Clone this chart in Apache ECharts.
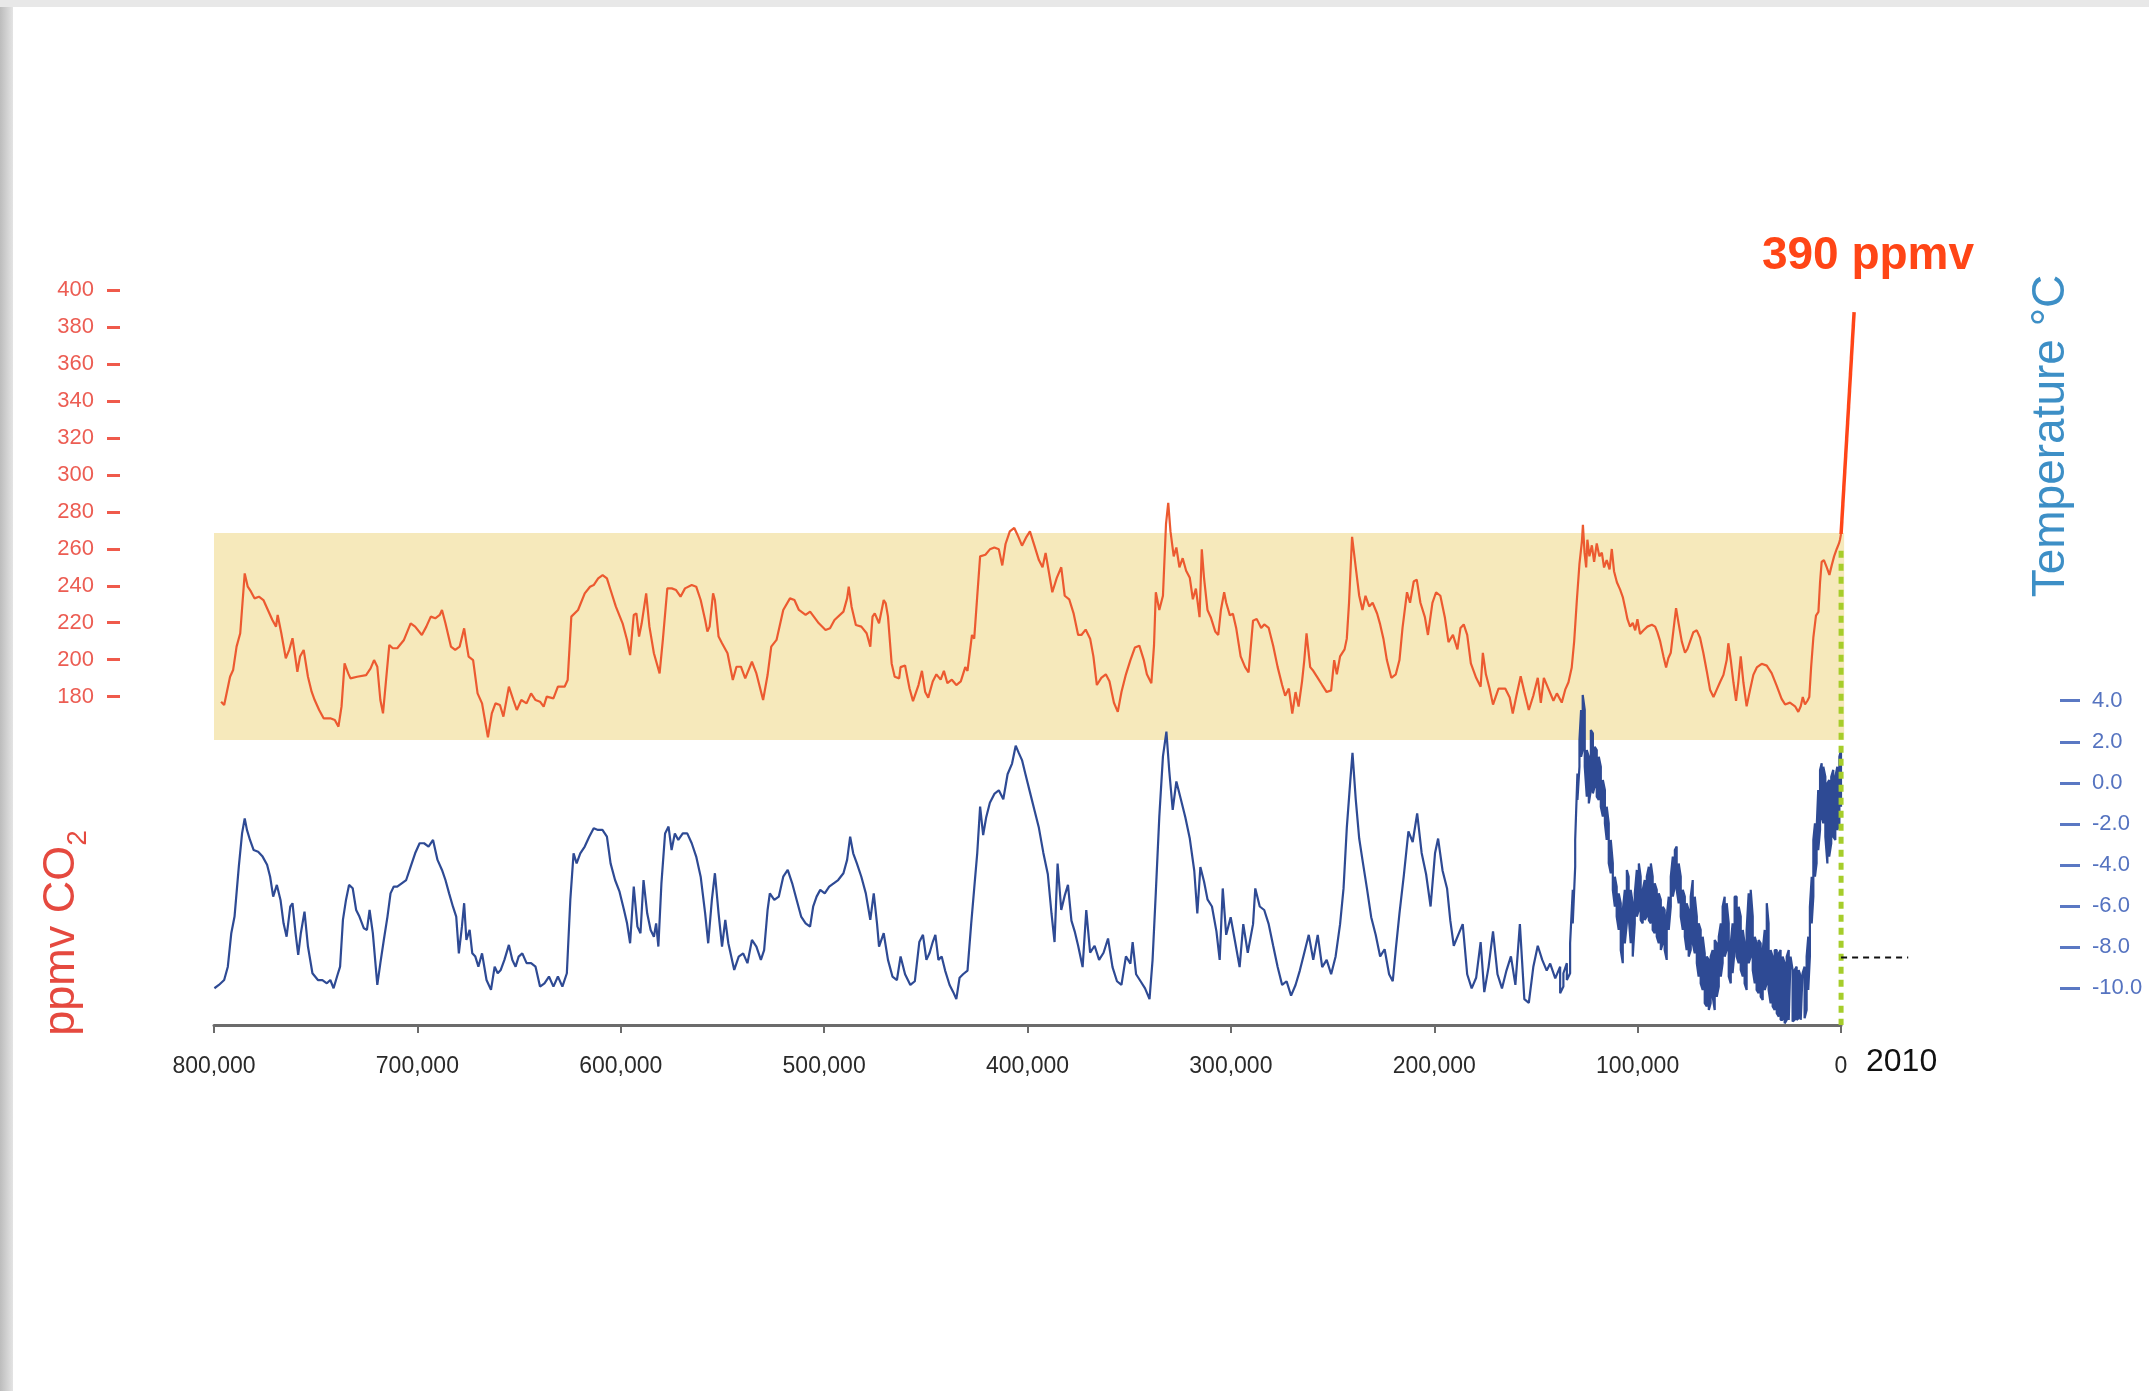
<!DOCTYPE html>
<html><head><meta charset="utf-8">
<script src="https://cdn.jsdelivr.net/npm/echarts@6/dist/echarts.min.js"></script>
<style>html,body{margin:0;padding:0;background:#fff;}#c{width:2149px;height:1391px;}</style>
</head><body><div id="c"></div>
<script>
// ---- data (age in thousand years before present) ----
const co2Age = [796.5,795.0,792.1,790.6,788.9,787.1,784.9,783.4,781.8,780.1,777.9,775.7,773.5,771.3,769.5,768.7,766.9,764.7,763.0,761.4,760.3,759.0,757.7,755.9,753.8,752.0,750.5,748.3,746.1,742.8,740.6,738.8,737.3,735.8,734.0,732.9,729.6,725.2,723.0,721.3,719.7,718.2,716.9,715.4,713.8,712.1,709.9,706.6,703.3,701.1,697.8,695.6,693.4,691.2,689.0,687.9,686.2,683.5,681.4,679.2,677.0,675.9,674.8,672.6,670.4,668.2,665.3,663.4,661.6,659.4,657.7,655.0,652.8,651.1,648.9,646.3,644.1,641.9,639.7,637.9,636.4,633.1,630.9,627.6,626.1,624.3,621.0,617.7,615.1,613.3,611.1,608.9,606.8,605.0,602.4,599.1,596.9,595.4,593.6,592.3,591.0,589.7,587.5,585.9,583.7,580.9,579.3,577.1,574.9,572.8,570.6,568.4,565.1,562.9,560.7,558.5,557.4,556.3,554.6,553.7,551.9,550.2,547.5,544.9,543.1,540.9,538.8,535.5,533.3,530.0,527.8,526.0,523.4,520.1,516.8,514.6,512.4,509.1,506.9,502.6,499.3,497.1,494.9,490.5,488.7,487.9,486.5,484.4,481.7,479.1,477.3,476.2,475.1,473.0,470.7,469.7,468.6,466.8,465.3,463.1,
462.4,460.2,458.0,456.3,453.6,451.9,450.3,448.8,446.6,444.8,442.7,441.1,439.4,437.2,435.0,432.8,430.6,429.5,427.3,426.2,424.7,423.3,420.7,418.5,416.3,414.1,412.4,410.8,408.7,406.5,404.9,402.7,400.5,398.8,396.6,394.4,392.6,391.1,389.6,387.8,385.6,383.4,381.7,379.5,377.3,375.1,373.5,371.4,369.2,367.6,365.9,363.7,361.5,359.7,357.5,355.6,353.8,351.6,349.4,347.2,345.0,342.8,341.3,339.1,337.8,336.9,335.2,333.4,331.9,330.8,329.7,328.1,326.8,325.3,323.7,322.0,320.2,318.7,317.2,315.4,314.3,313.2,311.5,309.9,307.7,306.2,304.9,303.3,302.3,300.5,299.0,297.4,295.2,293.0,291.3,289.1,287.3,285.1,283.6,281.4,279.2,277.0,274.8,273.3,271.5,269.8,268.2,266.7,265.0,263.9,262.8,261.0,259.5,257.3,255.1,252.9,250.7,249.2,247.9,246.3,244.1,243.0,241.9,240.4,238.6,236.9,235.3,233.8,232.0,230.3,228.1,226.6,225.0,223.3,221.1,218.9,217.1,215.6,213.4,211.9,210.1,208.6,206.8,204.6,203.1,200.9,199.1,197.0,194.8,193.0,190.8,188.6,187.1,185.5,183.8,182.0,179.4,177.2,176.1,174.6,172.8,171.1,168.4,165.1,162.9,161.4,159.6,157.5,155.7,153.5,151.3,149.1,147.6,146.1,143.9,
141.4,139.7,137.3,135.6,134.0,132.4,131.2,129.9,128.6,127.4,126.9,126.1,125.3,124.7,123.7,122.5,121.4,120.1,118.8,117.6,116.5,115.2,113.8,112.7,111.6,110.2,108.6,107.3,106.1,105.0,103.7,102.4,101.2,100.1,98.8,97.1,95.2,93.0,91.4,90.3,88.9,87.3,86.0,84.9,83.7,82.4,81.1,79.9,78.3,76.7,75.5,74.2,72.6,70.9,69.3,67.7,66.0,64.4,62.7,61.1,59.5,57.8,56.2,55.4,54.2,52.9,51.6,50.5,49.3,48.0,46.4,44.7,43.1,41.4,39.0,36.5,34.1,31.6,29.2,27.5,25.1,22.6,21.0,19.8,18.8,17.7,16.5,15.6,14.7,13.6,12.3,11.1,10.3,9.5,8.4,7.0,5.7,4.6,3.4,2.1,1.0,0.5,0.0];
const co2Ppm = [177.3,175.5,190.8,194.4,207.1,214.3,246.7,239.5,236.8,233.2,234.1,232.3,226.9,221.5,217.9,224.2,214.3,200.8,205.3,211.6,203.5,193.5,201.7,205.3,190.8,182.7,178.2,172.8,168.3,168.3,167.4,163.8,174.6,198.0,192.6,189.9,190.8,191.7,195.3,199.8,196.2,178.2,171.0,189.0,208.0,206.2,206.2,210.7,219.7,217.9,213.4,217.9,223.3,222.4,224.2,226.9,219.7,207.1,205.3,207.1,217.0,208.9,201.7,199.8,181.8,176.4,158.0,171.0,176.4,175.5,169.2,185.4,178.2,172.8,178.2,176.4,181.8,178.2,177.3,174.6,180.0,179.1,185.4,185.4,189.0,223.3,226.9,235.9,239.5,240.4,244.0,245.8,244.0,237.7,228.7,219.7,210.7,202.5,224.2,225.1,212.5,219.7,235.9,217.9,203.5,192.6,210.7,238.6,238.6,237.7,234.1,238.6,240.4,239.5,232.3,221.5,215.2,217.9,235.9,232.3,212.5,208.9,203.5,189.0,196.2,196.2,189.9,198.9,192.6,178.2,191.7,207.1,210.7,226.9,233.2,232.3,226.9,224.2,226.0,219.7,216.1,217.0,221.5,226.0,233.2,239.5,228.7,218.8,217.9,214.3,207.1,223.3,225.1,219.7,232.3,230.5,223.3,198.0,190.8,189.9,
196.0,196.9,184.4,177.6,186.3,194.0,182.5,179.5,188.2,192.1,189.2,194.0,187.3,189.2,186.3,188.3,196.0,194.0,213.4,211.4,234.6,255.9,256.8,259.7,260.7,259.7,251.0,262.6,269.4,271.3,267.5,261.7,266.5,269.4,261.7,253.9,250.0,257.8,248.1,236.5,244.3,250.0,234.6,232.7,224.9,213.4,213.4,216.3,211.4,201.8,186.3,190.2,192.1,188.3,176.7,171.8,182.5,192.1,199.8,206.6,207.6,199.8,192.1,187.3,207.6,236.5,226.9,234.6,273.3,284.9,269.4,255.9,260.7,250.0,254.9,248.1,244.3,232.7,238.5,223.0,259.7,244.3,226.9,223.0,215.3,213.4,226.9,236.5,230.8,224.0,224.9,217.2,201.8,196.0,193.1,221.1,222.1,217.2,219.1,217.2,207.6,196.0,186.3,180.5,184.4,170.9,182.5,174.7,188.3,199.8,214.3,196.0,194.0,190.2,186.3,182.5,183.4,199.8,192.1,201.8,205.6,211.4,230.8,266.5,250.0,234.6,226.9,234.6,228.8,230.8,225.0,219.1,211.4,199.8,190.2,192.1,199.8,217.2,236.5,230.8,242.3,243.3,230.8,223.0,213.4,230.8,236.5,234.6,223.0,209.5,213.4,205.6,217.2,219.1,213.4,198.0,190.2,185.4,203.7,192.1,184.4,175.7,184.4,184.4,179.6,170.9,180.5,191.1,182.5,172.8,180.5,190.2,176.7,190.2,184.4,
177.8,181.8,176.8,183.8,187.8,195.8,209.9,231.9,251.9,263.9,273.0,257.9,249.9,264.9,255.9,261.9,252.9,262.9,255.9,257.9,249.9,253.9,248.9,259.9,247.9,241.9,237.9,233.9,227.9,221.9,217.9,219.9,215.9,221.9,213.9,215.9,217.9,218.9,217.9,214.9,209.9,201.8,195.8,200.8,203.8,215.9,227.9,219.9,209.9,203.8,205.8,209.9,214.9,215.9,211.9,203.8,193.8,183.8,179.8,183.8,187.8,191.8,199.8,208.9,199.8,187.8,177.8,187.8,201.8,187.8,174.8,183.8,191.8,195.8,197.8,196.8,192.8,185.8,178.8,175.8,176.8,174.8,171.8,174.8,179.8,175.8,177.8,179.8,195.8,211.9,223.9,225.9,241.9,252.9,253.9,249.9,245.9,250.9,255.9,259.9,262.9,264.9,268.0];

// temperature, 800k -> 140k (single trace)
const tempAge = [799.8,797.6,795.0,793.2,791.5,789.9,787.8,786.2,784.9,783.8,782.3,780.5,778.3,776.1,773.9,772.4,770.9,769.1,767.3,765.8,764.3,762.5,761.4,759.9,758.6,757.3,755.5,753.8,751.6,748.9,746.7,744.5,742.8,741.2,739.5,738.0,736.6,735.1,733.6,731.8,730.1,728.5,726.3,724.8,723.5,721.9,719.7,718.2,716.5,714.7,713.2,711.6,709.9,707.7,705.5,703.3,701.1,698.9,696.7,694.5,692.3,690.1,687.9,686.2,684.4,682.5,680.9,679.6,678.1,677.0,675.9,674.3,673.0,671.5,670.0,668.2,666.0,663.8,662.0,660.5,659.0,657.2,655.0,653.3,651.7,650.2,648.4,646.3,644.1,641.9,639.7,637.5,635.3,633.1,630.9,628.7,626.5,624.8,623.2,621.7,619.9,617.7,615.5,613.3,611.2,609.0,606.8,605.0,602.8,600.6,598.4,596.9,595.4,593.6,591.8,590.3,588.8,587.0,585.3,583.7,582.6,581.5,580.0,578.2,576.5,575.0,573.4,571.7,569.5,567.3,565.1,562.9,560.7,558.5,557.0,555.2,553.7,551.9,550.2,548.6,547.1,544.2,542.0,539.8,537.7,535.5,533.3,531.1,529.5,527.8,526.7,524.5,522.3,520.1,517.9,515.7,513.5,511.3,509.1,506.9,505.4,503.7,501.9,499.7,497.5,495.3,493.1,490.5,488.7,487.2,485.7,483.9,481.7,479.5,477.3,475.6,474.0,473.0,470.7,468.6,466.4,464.2,
462.4,460.2,457.6,455.4,453.2,451.4,449.7,448.1,446.6,445.3,443.8,442.2,440.5,438.3,436.5,435.0,433.4,431.7,429.5,427.7,426.2,424.7,423.3,421.8,420.3,418.5,416.3,414.1,411.9,409.8,407.6,405.8,404.3,402.7,401.0,398.8,396.6,394.4,392.2,390.0,388.2,386.7,385.2,383.4,381.7,380.1,378.4,376.8,375.1,372.9,371.1,369.2,367.0,364.8,362.6,360.4,358.2,356.0,353.8,351.6,349.4,348.3,346.6,344.4,342.2,340.0,338.5,336.9,335.2,333.4,331.7,330.3,328.6,326.8,324.6,322.4,320.2,318.0,316.5,315.0,313.2,311.5,309.3,307.1,305.5,304.0,302.3,300.1,297.9,295.7,293.9,291.7,289.1,288.0,285.8,283.6,281.4,279.2,277.0,274.8,272.6,270.4,268.2,266.1,263.9,261.7,259.5,257.3,255.1,252.9,250.7,248.5,246.3,244.6,243.0,241.3,240.2,238.6,236.9,235.3,233.1,231.0,228.8,226.6,224.4,222.2,220.4,218.9,217.1,214.9,212.7,210.6,208.4,206.2,204.0,201.8,199.6,198.1,195.9,193.7,192.1,190.4,188.2,186.0,183.8,181.6,179.4,177.2,175.4,173.3,171.1,168.9,166.7,164.5,162.3,160.1,157.9,155.7,153.5,151.3,149.1,146.9,144.7,143.0,140.5];
const tempC = [-10.0,-9.84,-9.60,-8.95,-7.32,-6.51,-4.08,-2.46,-1.73,-2.29,-2.78,-3.27,-3.35,-3.59,-3.99,-4.57,-5.54,-4.97,-5.70,-6.84,-7.49,-6.03,-5.86,-7.32,-8.38,-7.32,-6.27,-7.97,-9.27,-9.60,-9.60,-9.76,-9.60,-10.0,-9.43,-8.95,-6.67,-5.70,-4.97,-5.13,-6.19,-6.51,-7.08,-7.16,-6.19,-7.32,-9.84,-8.78,-7.65,-6.51,-5.38,-5.05,-5.05,-4.89,-4.73,-4.08,-3.43,-2.94,-2.94,-3.10,-2.78,-3.75,-4.24,-4.73,-5.38,-6.03,-6.51,-8.30,-7.00,-5.86,-7.65,-7.16,-8.30,-8.46,-8.95,-8.30,-9.60,-10.08,-8.95,-9.27,-9.11,-8.62,-7.89,-8.62,-8.95,-8.46,-8.30,-8.78,-8.78,-8.95,-9.92,-9.76,-9.43,-9.92,-9.43,-9.92,-9.27,-5.70,-3.43,-3.92,-3.43,-3.10,-2.62,-2.21,-2.29,-2.29,-2.62,-3.92,-4.73,-5.30,-6.19,-6.84,-7.81,-5.05,-7.00,-7.32,-4.73,-6.35,-7.16,-7.49,-6.84,-7.97,-4.89,-2.46,-2.13,-3.27,-2.46,-2.78,-2.46,-2.46,-2.94,-3.59,-4.57,-6.35,-7.81,-5.70,-4.40,-6.35,-7.97,-6.67,-7.81,-9.11,-8.46,-8.30,-8.78,-7.65,-7.97,-8.62,-8.14,-6.19,-5.38,-5.70,-5.54,-4.57,-4.24,-4.89,-5.70,-6.51,-6.84,-7.00,-6.03,-5.54,-5.21,-5.38,-5.05,-4.89,-4.73,-4.40,-3.75,-2.62,-3.43,-3.92,-4.57,-5.38,-6.67,-5.38,-6.84,-7.97,-7.32,-8.62,-9.43,-9.60,
-8.45,-9.32,-9.84,-9.66,-7.75,-7.40,-8.62,-8.27,-7.75,-7.40,-8.62,-8.45,-9.14,-9.84,-10.19,-10.53,-9.49,-9.32,-9.14,-6.88,-5.14,-3.41,-1.15,-2.54,-1.67,-0.97,-0.54,-0.36,-0.80,0.42,0.94,1.81,1.46,1.11,0.42,-0.45,-1.32,-2.19,-3.41,-4.45,-6.36,-7.75,-3.93,-6.19,-5.49,-4.97,-6.71,-7.23,-7.93,-8.97,-6.19,-8.27,-7.93,-8.62,-8.27,-7.58,-8.97,-9.66,-9.84,-8.45,-8.80,-7.75,-9.32,-9.66,-10.01,-10.53,-8.62,-5.32,-1.67,1.29,2.50,0.59,-1.32,0.07,-0.80,-1.67,-2.71,-4.28,-6.36,-4.10,-4.80,-5.67,-6.02,-7.23,-8.62,-5.14,-7.40,-6.54,-7.75,-8.97,-6.88,-8.27,-6.88,-5.14,-6.02,-6.19,-6.88,-7.93,-8.97,-9.84,-9.66,-10.36,-9.84,-9.14,-8.27,-7.40,-8.62,-7.40,-8.97,-8.62,-9.32,-8.45,-6.88,-5.14,-2.19,0.07,1.46,-0.80,-2.71,-3.75,-5.14,-6.54,-7.40,-8.45,-8.10,-9.32,-9.66,-8.10,-6.36,-4.45,-2.36,-2.88,-1.49,-3.41,-4.45,-6.02,-3.41,-2.71,-4.28,-5.14,-6.71,-7.93,-7.40,-6.88,-9.32,-10.01,-9.49,-7.75,-10.19,-8.97,-7.23,-9.32,-10.01,-9.14,-8.45,-9.84,-6.88,-10.53,-10.71,-8.97,-7.93,-8.62,-9.14,-8.80,-9.52];

// temperature, 138k -> 0: densely sampled record, read as upper / lower edge of the trace
const recentAge = [138.1,136.5,134.8,133.2,131.9,130.7,129.6,128.6,127.8,127.0,126.0,125.0,124.0,123.0,122.0,121.1,120.1,119.1,118.1,117.1,116.1,115.2,114.2,113.2,112.2,111.2,110.3,109.3,108.3,107.3,106.3,105.3,104.4,103.4,102.4,101.4,100.4,99.4,98.5,97.5,96.5,95.5,94.5,93.5,92.6,91.6,90.6,89.6,88.6,87.6,86.7,85.7,84.7,83.7,82.7,81.7,80.8,79.8,78.8,77.8,76.8,75.9,74.9,73.9,72.9,71.9,70.9,70.0,69.0,68.0,67.0,66.0,65.0,64.1,63.1,62.1,61.1,60.1,59.1,58.2,57.2,56.2,55.2,54.2,53.3,52.3,51.3,50.3,49.3,48.3,47.4,46.4,45.4,44.4,43.4,42.4,41.5,40.5,39.5,38.5,37.5,36.5,35.6,34.6,33.6,32.6,31.6,30.6,29.7,28.7,27.7,26.7,25.7,24.8,23.8,22.8,21.8,20.8,19.8,18.9,17.9,16.9,16.1,15.3,14.4,13.6,12.8,12.0,11.2,10.3,9.5,8.7,7.7,6.7,5.8,4.8,3.8,2.8,1.8,0.8,0.0];
const recentUpper = [-8.95,-9.27,-8.78,-7.81,-5.21,-2.78,0.46,2.09,3.55,4.28,3.55,1.60,1.27,2.57,2.41,1.76,1.60,1.27,0.79,0.14,-0.35,-1.16,-1.97,-2.78,-3.92,-4.57,-5.05,-5.38,-5.86,-6.19,-5.21,-4.24,-4.57,-5.21,-5.86,-5.38,-4.24,-3.92,-4.57,-5.21,-4.73,-4.57,-4.08,-3.92,-4.57,-4.89,-5.21,-5.38,-5.70,-6.03,-6.19,-6.51,-5.54,-4.57,-3.59,-3.27,-3.10,-3.92,-4.57,-5.21,-5.54,-5.86,-6.19,-5.54,-4.73,-5.54,-6.51,-6.84,-7.16,-7.49,-8.30,-8.46,-8.62,-8.46,-8.14,-7.65,-7.81,-7.49,-6.84,-6.03,-5.54,-5.86,-6.84,-7.81,-6.84,-5.54,-5.54,-6.03,-6.51,-7.16,-7.81,-7.16,-5.38,-5.21,-6.51,-7.49,-7.81,-7.65,-7.81,-8.14,-7.16,-5.86,-6.84,-8.14,-8.46,-8.14,-8.14,-8.30,-8.14,-8.46,-8.78,-8.46,-8.14,-8.46,-9.11,-9.11,-8.95,-9.11,-9.43,-9.27,-8.95,-8.46,-7.49,-6.03,-4.57,-2.78,-1.97,-2.29,-0.35,0.63,0.95,0.79,0.30,-0.02,0.14,0.30,0.63,0.30,0.79,1.27,1.60];
const recentLower = [-10.24,-9.92,-9.60,-9.27,-6.84,-4.08,-0.83,0.79,1.27,1.60,0.79,-0.67,-1.00,-0.35,-0.51,-0.18,-0.67,-0.83,-1.16,-1.64,-1.97,-2.78,-3.92,-4.40,-5.21,-6.03,-6.51,-7.16,-8.14,-8.78,-7.81,-6.84,-6.51,-7.81,-8.46,-6.84,-6.51,-6.19,-6.68,-6.84,-6.68,-6.51,-6.68,-6.84,-7.16,-7.32,-7.49,-7.81,-8.14,-7.81,-8.14,-8.62,-7.16,-6.03,-5.54,-5.05,-5.21,-5.86,-6.51,-7.16,-7.49,-8.14,-8.46,-8.14,-7.81,-8.30,-8.78,-9.43,-9.76,-10.08,-10.73,-10.89,-11.06,-10.73,-10.41,-11.06,-10.41,-9.92,-9.43,-8.78,-8.46,-8.14,-9.43,-9.76,-9.27,-8.14,-8.46,-8.78,-9.11,-9.43,-9.76,-10.08,-8.78,-8.46,-9.11,-9.76,-10.08,-10.24,-10.41,-10.57,-10.08,-9.76,-10.08,-10.73,-10.89,-11.06,-11.22,-11.38,-11.54,-11.54,-11.71,-11.54,-11.54,-11.62,-11.62,-11.54,-11.54,-11.46,-11.54,-11.54,-11.46,-11.06,-10.08,-8.46,-6.84,-5.54,-4.57,-3.92,-3.27,-2.29,-1.64,-1.97,-2.62,-3.92,-3.59,-2.94,-2.62,-2.78,-2.29,-1.97,-1.16];

// modern CO2 rise (to 2010, plotted just beyond 0)
const modernAge = [0.0, -6.4];
const modernPpm = [268.0, 388.0];

// axis ticks / labels
const xTicks = [0,100,200,300,400,500,600,700,800];
const xTickLabels = ['0','100,000','200,000','300,000','400,000','500,000','600,000','700,000','800,000'];
const co2Ticks = [180,200,220,240,260,280,300,320,340,360,380,400];
const tempTicks = [4,2,0,-2,-4,-6,-8,-10];

// annotation values
const bandPpm = [156.6, 268.6];       // shaded band
const markerLinePpm = [259.0, 2.4];   // green dotted line at 0
const refTemp = -8.5;                 // black dashed reference
const refAge = [0.0, -33.0];

const zip = (a, b) => a.map((v, i) => [v, b[i]]);
// the dense recent record is drawn as a trace running between its read upper and lower edges
const recentTrace = [];
recentAge.forEach((a, i) => {
  if (i % 2 === 0) { recentTrace.push([a, recentUpper[i]], [a, recentLower[i]]); }
  else { recentTrace.push([a, recentLower[i]], [a, recentUpper[i]]); }
});
const tempData = zip(tempAge, tempC).concat(recentTrace);

const chart = echarts.init(document.getElementById('c'), null, {renderer: 'canvas', width: 2149, height: 1391});
const FF = "'Liberation Sans', Arial, Helvetica, sans-serif";
const CO2_RANGE = {min: 2.4, max: 400};
const T_RANGE = {min: -11.79, max: 24};

chart.setOption({
  animation: false,
  backgroundColor: '#ffffff',
  grid: [
    {left: 214, right: 308, top: 290, bottom: 366},
    {left: 214, right: 240.8, top: 290, bottom: 366}
  ],
  xAxis: [
    {type: 'value', gridIndex: 0, min: 0, max: 800, interval: 100, inverse: true,
      axisLine: {show: true, onZero: false, lineStyle: {color: '#6b6b6b', width: 3}},
      axisTick: {show: true, length: 8, lineStyle: {color: '#6b6b6b', width: 2}},
      axisLabel: {margin: 30, fontSize: 23, color: '#2a2a2a', fontFamily: FF, showMinLabel: true, showMaxLabel: true,
        formatter: v => { const i = xTicks.indexOf(v); return i >= 0 ? xTickLabels[i] : ''; }},
      splitLine: {show: false}},
    {type: 'value', gridIndex: 1, min: -33, max: 800, inverse: true, show: false}
  ],
  yAxis: [
    {type: 'value', gridIndex: 0, position: 'left', min: CO2_RANGE.min, max: CO2_RANGE.max, offset: 94,
      axisLine: {show: false, onZero: false},
      axisTick: {show: true, length: 13, customValues: co2Ticks, lineStyle: {color: '#ef5a4b', width: 3}},
      axisLabel: {show: true, customValues: co2Ticks, margin: 26, fontSize: 22, color: '#ec5d53', fontFamily: FF},
      splitLine: {show: false}},
    {type: 'value', gridIndex: 0, position: 'right', min: T_RANGE.min, max: T_RANGE.max, offset: 219,
      axisLine: {show: false, onZero: false},
      axisTick: {show: true, length: 20, customValues: tempTicks, lineStyle: {color: '#5a78c3', width: 3}},
      axisLabel: {show: true, customValues: tempTicks, margin: 32, fontSize: 22, color: '#5573c0', fontFamily: FF,
        formatter: v => v.toFixed(1)},
      splitLine: {show: false}},
    {type: 'value', gridIndex: 1, min: CO2_RANGE.min, max: CO2_RANGE.max, show: false},
    {type: 'value', gridIndex: 1, min: T_RANGE.min, max: T_RANGE.max, show: false}
  ],
  series: [
    {type: 'line', name: 'band', xAxisIndex: 1, yAxisIndex: 2, data: [], z: 1, silent: true,
      markArea: {silent: true, itemStyle: {color: '#f6e9bb'},
        data: [[{xAxis: 800, yAxis: bandPpm[0]}, {xAxis: -1.5, yAxis: bandPpm[1]}]]}},
    {type: 'line', name: 'CO2', xAxisIndex: 0, yAxisIndex: 0, data: zip(co2Age, co2Ppm), symbol: 'none', z: 3,
      lineStyle: {color: '#ec5a30', width: 2.2}},
    {type: 'line', name: 'Temperature', xAxisIndex: 0, yAxisIndex: 1, data: tempData, symbol: 'none', z: 3,
      lineStyle: {color: '#2e4a94', width: 2.2}},
    {type: 'line', name: 'modern', xAxisIndex: 1, yAxisIndex: 2, data: zip(modernAge, modernPpm), symbol: 'none', z: 4,
      lineStyle: {color: '#ff4518', width: 3.5}},
    {type: 'line', name: 'marker', xAxisIndex: 1, yAxisIndex: 2, data: [[0, markerLinePpm[0]], [0, markerLinePpm[1]]], symbol: 'none', z: 5,
      lineStyle: {color: '#a6cd2b', width: 5, type: [7, 6]}},
    {type: 'line', name: 'ref', xAxisIndex: 1, yAxisIndex: 3, data: [[refAge[0], refTemp], [refAge[1], refTemp]], symbol: 'none', z: 5,
      lineStyle: {color: '#111111', width: 2, type: [6, 5]}}
  ],
  graphic: [
    {type: 'rect', shape: {x: 0, y: 0, width: 13, height: 1391}, silent: true,
      style: {fill: new echarts.graphic.LinearGradient(0, 0, 1, 0, [{offset: 0, color: '#bcbcbc'}, {offset: 1, color: '#e4e4e4'}])}},
    {type: 'rect', shape: {x: 0, y: 0, width: 2149, height: 7}, silent: true, style: {fill: '#e8e8e8'}},
    {type: 'text', x: 62, y: 933, rotation: Math.PI / 2, silent: true,
      style: {text: '{a|ppmv CO}{b|2}', align: 'center', verticalAlign: 'middle',
        rich: {a: {fontSize: 45, lineHeight: 60, fill: '#e5493f', fontFamily: FF},
               b: {fontSize: 28, lineHeight: 28, verticalAlign: 'bottom', fill: '#e5493f', fontFamily: FF}}}},
    {type: 'text', x: 2051, y: 436, rotation: Math.PI / 2, silent: true,
      style: {text: 'Temperature °C', align: 'center', verticalAlign: 'middle', fontSize: 46, fill: '#3d8fc6', fontFamily: FF}},
    {type: 'text', x: 1868, y: 256, silent: true,
      style: {text: '390 ppmv', align: 'center', verticalAlign: 'middle', fontSize: 46, fontWeight: 'bold', fill: '#ff4516', fontFamily: FF}},
    {type: 'text', x: 1866, y: 1062, silent: true,
      style: {text: '2010', align: 'left', verticalAlign: 'middle', fontSize: 32, fill: '#111111', fontFamily: FF}}
  ]
});
</script>
</body></html>
